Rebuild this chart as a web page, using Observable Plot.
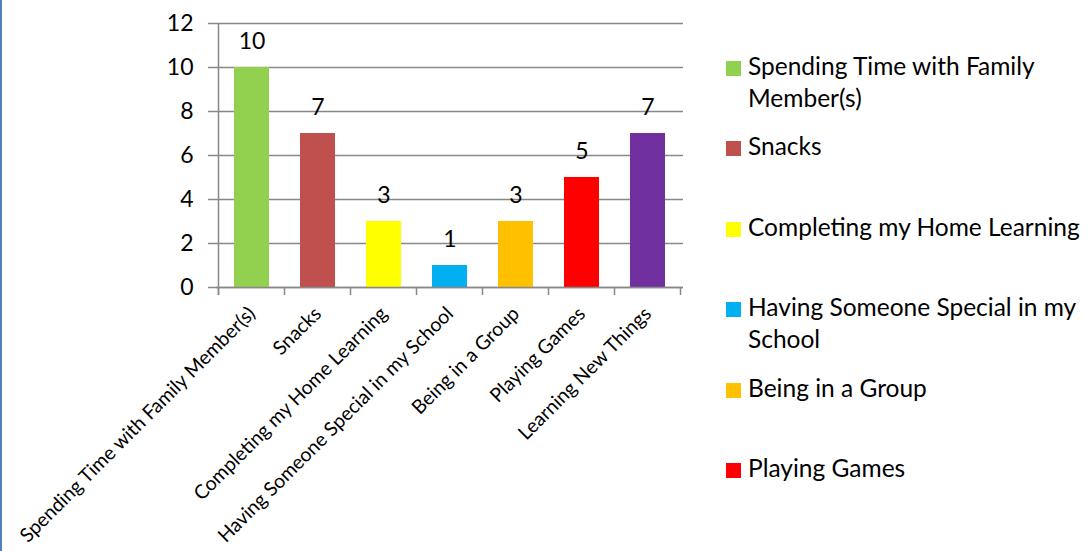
<!DOCTYPE html>
<html>
<head>
<meta charset="utf-8">
<script src="https://cdn.jsdelivr.net/npm/d3@7"></script>
<script src="https://cdn.jsdelivr.net/npm/@observablehq/plot@0.6"></script>
<style>
  html, body { margin: 0; padding: 0; background: #fff; }
  #wrap { position: relative; width: 1092px; height: 551px; overflow: hidden; border-left: 2px solid #4f81bd; box-sizing: border-box; }
  #chart { position: absolute; left: -2px; top: 0; }
  #legend { position: absolute; left: 724px; top: 46px; width: 368px; height: 470px; overflow: hidden; font-family: Lato, sans-serif; font-size: 24.5px; color: #000; }
  .item { position: absolute; left: 0; display: flex; align-items: flex-start; }
  .sw { width: 15px; height: 15px; margin-top: 11px; margin-right: 7px; flex: none; }
  .lab { width: 346px; line-height: 32px; margin-top: 0px; }
</style>
</head>
<body>
<div id="wrap">
  <div id="chart"></div>
  <div id="legend"></div>
</div>
<script>
const categories = [
  "Spending Time with Family Member(s)",
  "Snacks",
  "Completing my Home Learning",
  "Having Someone Special in my School",
  "Being in a Group",
  "Playing Games",
  "Learning New Things"
];
const values = [10, 7, 3, 1, 3, 5, 7];
const colors = ["#92d050", "#c0504d", "#ffff00", "#00b0f0", "#ffc000", "#ff0000", "#7030a0"];
const yTicks = [0, 2, 4, 6, 8, 10, 12];

const data = categories.map((c, i) => ({category: c, value: values[i], color: colors[i]}));

const W = 700, H = 551;
const mL = 216, mR = 17, mT = 23, mB = 264;

const plot = Plot.plot({
  width: W,
  height: H,
  marginLeft: mL,
  marginRight: mR,
  marginTop: mT,
  marginBottom: mB,
  style: {fontFamily: "Lato, sans-serif", background: "white", overflow: "visible"},
  x: {domain: categories, paddingInner: 0.47, paddingOuter: 0.235, label: null},
  y: {domain: [0, 12], ticks: yTicks, label: null},
  color: {type: "identity"},
  marks: [
    Plot.gridY(yTicks, {stroke: "#888888", strokeOpacity: 1, strokeWidth: 1.5}),
    Plot.barY(data, {x: "category", y: "value", fill: "color"}),
    Plot.ruleY([0], {stroke: "#888888", strokeWidth: 1.5}),
    Plot.axisY(yTicks, {tickSize: 8, tickPadding: 15, fontSize: 23, stroke: "#888888", strokeWidth: 1.5, tickFormat: d => d, fill: "#000"}),
    Plot.axisX({tickSize: 0, tickPadding: 23, tickRotate: -45, fontSize: 19.5, fill: "#000"}),
    Plot.text(data, {x: "category", y: "value", text: d => String(d.value), dy: -26, fontSize: 23, fill: "#000", lineAnchor: "middle"})
  ]
});

const svg = d3.select(plot);
const xs = plot.scale("x");
const ys = plot.scale("y");
const step = xs.step;
const left = xs.apply(categories[0]) - (step - xs.bandwidth) / 2;
const y0 = ys.apply(0);
const y12 = ys.apply(12);
// vertical axis line
svg.append("line").attr("x1", left).attr("x2", left).attr("y1", y12).attr("y2", y0 + 8)
  .attr("stroke", "#888888").attr("stroke-width", 1.5);
// category boundary ticks
for (let i = 0; i <= categories.length; i++) {
  const bx = left + i * step;
  svg.append("line").attr("x1", bx).attr("x2", bx).attr("y1", y0).attr("y2", y0 + 8)
    .attr("stroke", "#888888").attr("stroke-width", 1.5);
}
document.getElementById("chart").appendChild(plot);

// legend: entries that do not fit in the legend box are left out, as in the reference
const legendBoxHeight = 470, rowStep = 80.4;
const legend = d3.select("#legend");
data.forEach((d, i) => {
  const top = 4 + i * rowStep;
  if (top + 40 > legendBoxHeight) return;
  const it = legend.append("div").attr("class", "item").style("top", top + "px");
  it.append("div").attr("class", "sw").style("background", d.color);
  it.append("div").attr("class", "lab").text(d.category);
});
</script>
</body>
</html>
